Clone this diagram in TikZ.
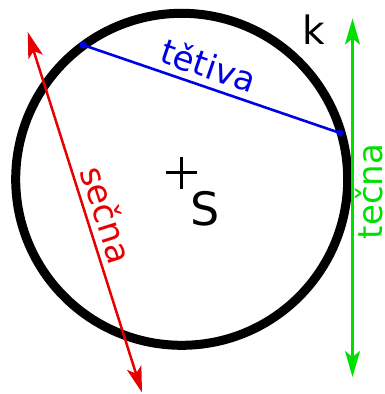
\documentclass[tikz,border=0pt]{standalone}
\usepackage{fontspec}
\setmainfont{DejaVu Sans}
\usetikzlibrary{arrows.meta}
\definecolor{myred}{RGB}{230,0,0}
\definecolor{myblue}{RGB}{0,0,230}
\definecolor{mygreen}{RGB}{0,224,0}
\begin{document}
\begin{tikzpicture}[x=1pt,y=-1pt,
  tip/.style={{Stealth[length=26pt,width=15pt,inset=6pt]}-{Stealth[length=26pt,width=15pt,inset=6pt]}},
  lbl/.style={inner sep=0pt,font=\fontsize{34}{40}\selectfont},
  dot/.style={circle,fill=myblue,inner sep=0pt,minimum size=7pt}]
\useasboundingbox (0,0) rectangle (384,394);
% circle k
\coordinate (S) at (181.7,179.3);
\draw[line width=9pt] (S) circle[radius=166];
% centre mark
\draw[line width=3pt] (166,172.5) -- (196.5,172.5) (181,156.5) -- (181,188.5);
\node[inner sep=0pt,font=\fontsize{46}{50}\selectfont] (Slbl) at (204.8,208.7) {S};
\node[inner sep=0pt,font=\fontsize{39}{44}\selectfont] (k) at (313.5,30) {k};
% chord
\node[dot] (A) at (83,45) {};
\node[dot] (B) at (340,133) {};
\draw[myblue,line width=2.6pt] (A.center) -- (B.center);
\node[lbl,text=myblue,rotate=-18.9] (tetiva) at (209,65) {tětiva};
% secant
\coordinate (R1) at (27.7,32);
\coordinate (R2) at (142,392.5);
\draw[myred,line width=2.5pt,tip] (R1) -- (R2);
\node[lbl,text=myred,rotate=-72.4] (secna) at (107.5,214.5) {sečna};
% tangent
\coordinate (G1) at (352.5,18.5);
\coordinate (G2) at (352.5,377);
\draw[mygreen,line width=2.3pt,tip] (G1) -- (G2);
\node[lbl,text=mygreen,rotate=90] (tecna) at (369,191.5) {tečna};
\end{tikzpicture}
\end{document}
